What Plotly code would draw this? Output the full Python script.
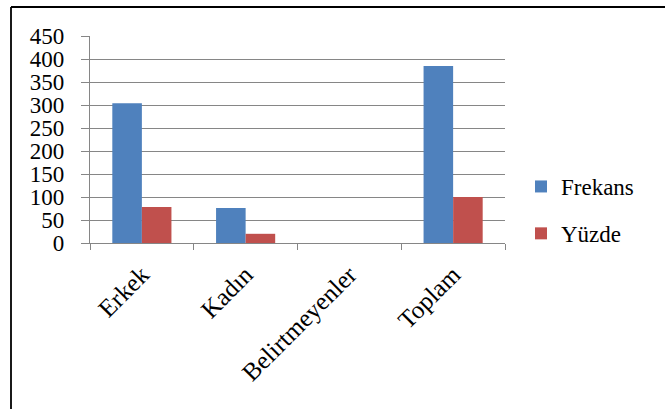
import plotly.graph_objects as go

categories = ["Erkek", "Kadın", "Belirtmeyenler", "Toplam"]
frekans = [304, 76, 0, 385]
yuzde = [78, 20, 0, 100]
series_names = ["Frekans", "Yüzde"]
colors = ["#4F81BD", "#C0504D"]
y_ticks = list(range(0, 451, 50))

FONT = "Times New Roman, Liberation Serif, serif"

fig = go.Figure()
for name, vals, col, grp in zip(series_names, [frekans, yuzde], colors, ["a", "b"]):
    fig.add_trace(go.Bar(x=categories, y=vals, name=name, marker_color=col,
                         marker_line_width=0, legendgroup=grp))

W, H = 665, 409
L, R, T, B = 90, 160, 36, 166
pw = W - L - R
ph = H - T - B

def px_x(p):
    return (p - L) / pw

def px_y(p):
    return (H - B - p) / ph

fig.update_layout(
    width=W, height=H,
    margin=dict(l=L, r=R, t=T, b=B),
    paper_bgcolor="white", plot_bgcolor="white",
    barmode="group", bargap=0.43, bargroupgap=0,
    font=dict(family=FONT, size=23, color="black"),
    showlegend=True,
    legend=dict(x=px_x(521), y=px_y(210), xanchor="left", yanchor="middle",
                traceorder="grouped", tracegroupgap=14,
                font=dict(family=FONT, size=23, color="black"),
                itemwidth=30, bgcolor="rgba(0,0,0,0)"),
    xaxis=dict(showline=True, linecolor="#868686", linewidth=1.3,
               ticks="outside", tickson="boundaries", ticklen=6,
               tickcolor="#868686", tickwidth=1.3, tickangle=-45,
               showgrid=False, ticklabelstandoff=6,
               tickfont=dict(family=FONT, size=25, color="black")),
    yaxis=dict(range=[0, 450], tickvals=y_ticks, showline=True,
               linecolor="#868686", linewidth=1.3, ticks="outside",
               ticklen=8, tickcolor="#868686", tickwidth=1.3,
               showgrid=True, gridcolor="#868686", gridwidth=1.3,
               zeroline=False, ticklabelstandoff=12,
               tickfont=dict(family=FONT, size=23, color="black")),
    shapes=[
        dict(type="line", xref="paper", yref="paper",
             x0=px_x(11), x1=px_x(11), y0=px_y(7), y1=px_y(420),
             line=dict(color="black", width=1.8)),
        dict(type="line", xref="paper", yref="paper",
             x0=px_x(11), x1=px_x(680), y0=px_y(7), y1=px_y(7),
             line=dict(color="black", width=1.8)),
    ],
)

fig.write_html("out.html")
